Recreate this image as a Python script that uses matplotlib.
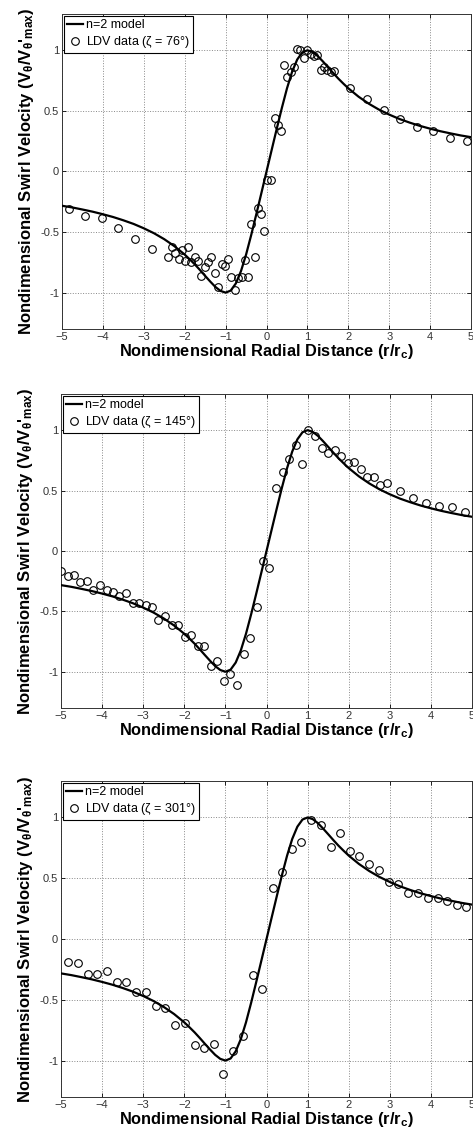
import matplotlib.pyplot as plt

plt.rcParams['font.family'] = ['Liberation Sans', 'DejaVu Sans']
plt.rcParams['mathtext.default'] = 'regular'

# n=2 model curve, positive half (curve is antisymmetric)
model_r_half = [0, 0.125, 0.25, 0.375, 0.5, 0.625, 0.75, 0.875, 1.0, 1.125, 1.25,
                1.375, 1.5, 1.625, 1.75, 1.875, 2.0, 2.25, 2.5, 2.75, 3.0, 3.25,
                3.5, 3.75, 4.0, 4.25, 4.5, 4.75, 5.0]
model_v_half = [0, 0.177, 0.353, 0.525, 0.686, 0.823, 0.924, 0.983, 1.0, 0.986, 0.953,
                0.909, 0.862, 0.814, 0.768, 0.726, 0.686, 0.617, 0.559, 0.510, 0.469, 0.433,
                0.403, 0.376, 0.353, 0.332, 0.314, 0.297, 0.283]

# LDV data, zeta = 76 deg
r_76 = [-4.83, -4.43, -4.02, -3.62, -3.21, -2.81, -2.40, -2.32, -2.24, -2.15, -2.07,
        -2.00, -1.92, -1.84, -1.75, -1.67, -1.59, -1.51, -1.43, -1.35, -1.26, -1.18,
        -1.10, -1.02, -0.94, -0.86, -0.77, -0.69, -0.61, -0.53, -0.45, -0.38, -0.29,
        -0.22, -0.14, -0.06, 0.02, 0.11, 0.20, 0.27, 0.36, 0.43, 0.51, 0.60, 0.68,
        0.75, 0.83, 0.91, 0.99, 1.08, 1.16, 1.24, 1.32, 1.40, 1.48, 1.57, 1.65,
        2.05, 2.46, 2.86, 3.26, 3.67, 4.08, 4.48, 4.89]
v_76 = [-0.31, -0.37, -0.38, -0.47, -0.56, -0.64, -0.71, -0.62, -0.67, -0.72, -0.65,
        -0.74, -0.62, -0.75, -0.71, -0.74, -0.86, -0.79, -0.75, -0.71, -0.84, -0.95,
        -0.76, -0.78, -0.72, -0.87, -0.98, -0.88, -0.87, -0.73, -0.87, -0.43, -0.71,
        -0.30, -0.35, -0.49, -0.07, -0.07, 0.44, 0.38, 0.33, 0.88, 0.78, 0.82, 0.86,
        1.01, 1.00, 0.94, 1.00, 0.97, 0.95, 0.96, 0.84, 0.86, 0.84, 0.82, 0.83,
        0.69, 0.60, 0.51, 0.43, 0.37, 0.33, 0.28, 0.25]

# LDV data, zeta = 145 deg
r_145 = [-4.99, -4.84, -4.69, -4.53, -4.37, -4.21, -4.05, -3.89, -3.73, -3.58, -3.41,
         -3.26, -3.10, -2.94, -2.78, -2.63, -2.46, -2.31, -2.15, -1.99, -1.83, -1.67,
         -1.51, -1.36, -1.20, -1.04, -0.88, -0.72, -0.56, -0.41, -0.24, -0.09, 0.07,
         0.23, 0.39, 0.54, 0.71, 0.86, 1.02, 1.18, 1.34, 1.50, 1.66, 1.81, 1.98,
         2.13, 2.29, 2.45, 2.61, 2.76, 2.93, 3.24, 3.56, 3.88, 4.20, 4.50, 4.82]
v_145 = [-0.17, -0.21, -0.20, -0.26, -0.25, -0.32, -0.28, -0.32, -0.34, -0.37, -0.35,
         -0.43, -0.43, -0.45, -0.46, -0.57, -0.54, -0.61, -0.61, -0.71, -0.70, -0.79,
         -0.79, -0.95, -0.91, -1.08, -1.02, -1.11, -0.85, -0.72, -0.46, -0.08, -0.14,
         0.52, 0.65, 0.76, 0.88, 0.72, 1.00, 0.95, 0.85, 0.81, 0.84, 0.79, 0.73,
         0.74, 0.68, 0.61, 0.61, 0.55, 0.56, 0.50, 0.44, 0.40, 0.37, 0.36, 0.32]

# LDV data, zeta = 301 deg
r_301 = [-4.83, -4.59, -4.35, -4.12, -3.89, -3.65, -3.41, -3.18, -2.93, -2.70, -2.47,
         -2.23, -1.99, -1.75, -1.52, -1.28, -1.05, -0.81, -0.57, -0.33, -0.10, 0.15,
         0.38, 0.62, 0.85, 1.09, 1.32, 1.56, 1.79, 2.03, 2.26, 2.50, 2.74, 2.97,
         3.21, 3.45, 3.69, 3.92, 4.16, 4.39, 4.63, 4.86]
v_301 = [-0.19, -0.20, -0.29, -0.29, -0.26, -0.35, -0.35, -0.44, -0.44, -0.55, -0.57,
         -0.71, -0.69, -0.87, -0.90, -0.86, -1.11, -0.92, -0.80, -0.30, -0.41, 0.42,
         0.55, 0.74, 0.80, 0.98, 0.94, 0.76, 0.87, 0.72, 0.68, 0.62, 0.57, 0.47,
         0.45, 0.38, 0.38, 0.34, 0.34, 0.31, 0.28, 0.26]

panels = [
    (r_76, v_76, '76', [0.131, 0.7099, 0.865, 0.2778]),
    (r_145, v_145, '145', [0.129, 0.3757, 0.869, 0.2769]),
    (r_301, v_301, '301', [0.129, 0.0326, 0.869, 0.2787]),
]

model_r = [-x for x in model_r_half[::-1]] + model_r_half[1:]
model_v = [-y for y in model_v_half[::-1]] + model_v_half[1:]

fig = plt.figure(figsize=(4.73, 11.34), dpi=100)

for r, v, zeta, pos in panels:
    ax = fig.add_axes(pos)
    ax.plot(model_r, model_v, color='black', lw=1.6, label='n=2 model', zorder=3)
    ax.plot(r, v, 'o', mfc='none', mec='black', ms=5.5, mew=0.8,
            label='LDV data ($\\zeta$ = ' + zeta + '°)', zorder=4)
    ax.set_xlim(-5, 5)
    ax.set_ylim(-1.3, 1.3)
    ax.set_xticks(range(-5, 6))
    ax.set_yticks([-1, -0.5, 0, 0.5, 1])
    ax.set_yticklabels(['-1', '-0.5', '0', '0.5', '1'])
    ax.grid(True, color='#888888', ls=':', lw=0.7)
    ax.tick_params(direction='in', top=True, right=True, length=3,
                   labelsize=8, labelcolor='#333333', pad=2, width=0.6)
    for s in ax.spines.values():
        s.set_linewidth(0.7)
        s.set_color('#333333')
    ax.set_xlabel('Nondimensional Radial Distance (r/r$_c$)', fontsize=11.8,
                  fontweight='bold', labelpad=0)
    ax.set_ylabel("Nondimensional Swirl Velocity (V$_{θ}$/V$_{θ}$'$_{max}$)",
                  fontsize=12, fontweight='bold', labelpad=3)
    leg = ax.legend(loc='upper left', fontsize=9, frameon=True, fancybox=False,
                    borderaxespad=0.15, borderpad=0.25, labelspacing=0.25,
                    handlelength=1.3, handletextpad=0.2, framealpha=1)
    leg.get_frame().set_edgecolor('black')
    leg.get_frame().set_linewidth(0.8)

fig.savefig('out.png', dpi=100)
